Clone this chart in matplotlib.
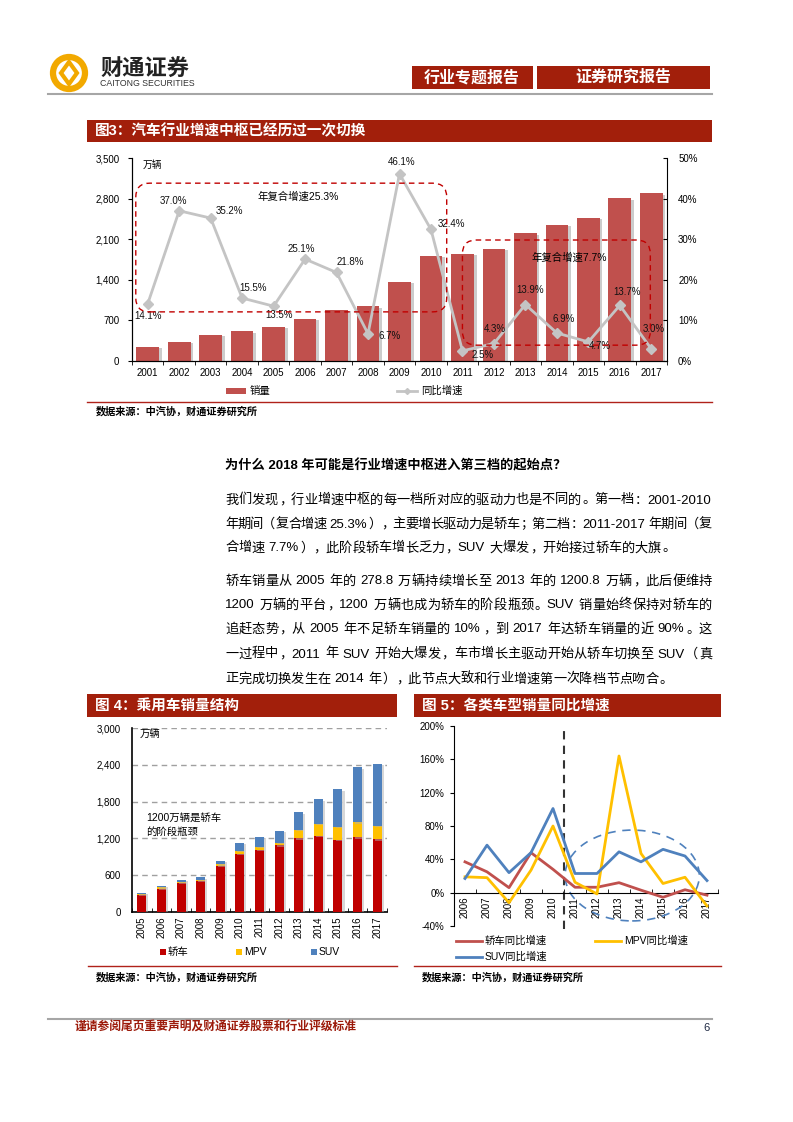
import matplotlib
matplotlib.use('Agg')
import matplotlib.pyplot as plt
import numpy as np
from matplotlib.patches import Rectangle, FancyBboxPatch, Ellipse, Polygon, Circle
from matplotlib.lines import Line2D
from matplotlib.transforms import IdentityTransform
from matplotlib.font_manager import FontProperties
import matplotlib.patheffects as pe

W, H = 793, 1122
FAM = ['Liberation Sans', 'Noto Sans CJK SC']
plt.rcParams['font.family'] = FAM

# ---------------- data ----------------
years3 = ['2001', '2002', '2003', '2004', '2005', '2006', '2007', '2008', '2009',
          '2010', '2011', '2012', '2013', '2014', '2015', '2016', '2017']
sales3 = [250, 330, 450, 510, 590, 725, 885, 940, 1370, 1810, 1850, 1935, 2200,
          2350, 2465, 2805, 2890]
growth3 = [14.1, 37.0, 35.2, 15.5, 13.5, 25.1, 21.8, 6.7, 46.1, 32.4, 2.5, 4.3,
           13.9, 6.9, 4.7, 13.7, 3.0]

years4 = ['2005', '2006', '2007', '2008', '2009', '2010', '2011', '2012', '2013',
          '2014', '2015', '2016', '2017']
sedan4 = [279, 383, 473, 504, 757, 951, 1011, 1086, 1201, 1240, 1173, 1220, 1188]
mpv4 = [16, 19, 20, 20, 21, 49, 54, 40, 135, 195, 216, 245, 215]
suv4 = [19, 25, 36, 44, 60, 130, 162, 195, 292, 405, 611, 892, 1017]

years5 = ['2006', '2007', '2008', '2009', '2010', '2011', '2012', '2013', '2014',
          '2015', '2016', '2017']
sedan_g5 = [37, 25, 6, 48, 28, 6.5, 6.5, 12, 3, -5.5, 3.5, -3]
mpv_g5 = [19, 18, -12, 27, 80, 12.5, -1.5, 164, 47, 11, 18.5, -16]
suv_g5 = [17, 57, 24, 48, 101, 23, 23, 49, 37, 52, 44, 14.5]

# label offsets (pixels) for growth labels in figure 3 (style only)
lab_off3 = [(0, -12), (-6, 10), (19, 7), (11, 10), (5, -9), (-4, 10), (14, 10),
            (22, -2), (2, 12), (20, 5), (20, -4), (1, 15), (5, 15), (7, 14),
            (12, -4), (7, 13), (2, 20)]

BANNER = '#A21F0B'
DARKRED = '#B0221A'

fig = plt.figure(figsize=(W / 100, H / 100), dpi=100)
fig.patch.set_facecolor('white')


def fx(x):
    return x / W


def fy(y):
    return 1 - y / H


def hline(x0, x1, y, color, lw=1.0):
    fig.add_artist(Line2D([fx(x0), fx(x1)], [fy(y), fy(y)], transform=fig.transFigure,
                          color=color, lw=lw))


def box(x0, y0, x1, y1, color):
    fig.add_artist(Rectangle((fx(x0), fy(y1)), (x1 - x0) / W, (y1 - y0) / H,
                             transform=fig.transFigure, fc=color, ec='none'))


def txt(x, y, s, **kw):
    return fig.text(fx(x), fy(y), s, **kw)


# ---------------- header ----------------
lc = (69, 73)
gold = '#F2A900'
fig.add_artist(Circle((lc[0], H - lc[1]), 16, transform=IdentityTransform(),
                      fill=False, ec=gold, lw=4.5))
fig.add_artist(Polygon([(lc[0], H - lc[1] + 11), (lc[0] + 8, H - lc[1]),
                        (lc[0], H - lc[1] - 11), (lc[0] - 8, H - lc[1])],
                       closed=True, transform=IdentityTransform(), fill=False,
                       ec=gold, lw=3))
txt(100, 70, '财通证券', fontsize=16, fontweight='bold', va='center', ha='left', color='#222222')
txt(100, 84, 'CAITONG SECURITIES', fontsize=6.3, va='center', ha='left', color='#333333')
box(412, 66, 533, 89, BANNER)
box(537, 66, 710, 89, BANNER)
txt(472, 77.5, '行业专题报告', fontsize=11.5, fontweight='bold', color='white', ha='center', va='center')
txt(623, 77.5, '证券研究报告', fontsize=11.5, fontweight='bold', color='white', ha='center', va='center')
hline(48, 712, 94, '#A6A6A6', 1.5)

# ---------------- figure 3 ----------------
box(87, 120, 712, 142, BANNER)
txt(95, 131, '图3：汽车行业增速中枢已经历过一次切换', fontsize=10.5, fontweight='bold',
    color='white', va='center', ha='left')

ax3 = fig.add_axes([fx(132), fy(361), 535 / W, 203 / H])
x3 = np.arange(len(years3))
bars = ax3.bar(x3, sales3, width=0.72, color='#C0504D', zorder=2)
for b in bars:
    b.set_path_effects([pe.SimplePatchShadow(offset=(2, -1), shadow_rgbFace='#9a9a9a', alpha=0.5),
                        pe.Normal()])
ax3.set_xlim(-0.5, len(years3) - 0.5)
ax3.set_ylim(0, 3500)
yt = np.arange(0, 3501, 700)
ax3.set_yticks(yt)
ax3.set_yticklabels([f'{v:,}' for v in yt], fontsize=7)
ax3.set_xticks(x3)
ax3.set_xticklabels(years3, fontsize=7)
ax3.set_xticks(np.arange(-0.5, len(years3), 1), minor=True)
ax3.tick_params(axis='x', which='major', length=0, pad=5)
ax3.tick_params(axis='x', which='minor', length=3, direction='out')
ax3.tick_params(axis='y', length=3, direction='out', pad=6)
ax3.spines['top'].set_visible(False)
ax3.spines['right'].set_visible(False)

ax3r = ax3.twinx()
g3 = np.array(growth3) / 100
ax3r.plot(x3, g3, color='#C4C4C4', lw=2, marker='D', ms=5, zorder=3)
ax3r.set_ylim(0, 0.5)
yt3r = np.arange(0, 0.51, 0.1)
ax3r.set_yticks(yt3r)
ax3r.set_yticklabels([f'{int(round(v * 100))}%' for v in yt3r], fontsize=7)
ax3r.tick_params(axis='y', length=3, direction='in', pad=8)
ax3r.spines['top'].set_visible(False)
for i, (v, off) in enumerate(zip(growth3, lab_off3)):
    ax3r.annotate(f'{v:.1f}%', (x3[i], v / 100), xytext=off, textcoords='offset pixels',
                  ha='center', va='center', fontsize=7, color='#111111')

ax3.text(0.02, 0.965, '万辆', transform=ax3.transAxes, fontsize=7, va='center', ha='left')
ax3r.text(4.78, 0.404, '年复合增速25.3%', fontsize=7.5, ha='center', va='center')
ax3r.text(13.4, 0.254, '年复合增速7.7%', fontsize=7.5, ha='center', va='center')

for (xa, ya, xb, yb) in [(-0.38, 0.121, 9.5, 0.438), (10.0, 0.039, 15.97, 0.298)]:
    p0 = ax3r.transData.transform((xa, ya))
    p1 = ax3r.transData.transform((xb, yb))
    fig.add_artist(FancyBboxPatch((p0[0], p0[1]), p1[0] - p0[0], p1[1] - p0[1],
                                  boxstyle='round,pad=0,rounding_size=14',
                                  transform=IdentityTransform(), fill=False,
                                  ec='#C00000', lw=1, ls=(0, (4, 3))))

box(226, 388, 246, 394, '#C0504D')
txt(250, 391, '销量', fontsize=7.5, va='center', ha='left')
fig.add_artist(Line2D([fx(397), fx(417)], [fy(391), fy(391)], transform=fig.transFigure,
                      color='#C4C4C4', lw=2))
fig.add_artist(Line2D([fx(407)], [fy(391)], transform=fig.transFigure, color='#C4C4C4',
                      marker='D', ms=3, lw=0))
txt(421, 391, '同比增速', fontsize=7.5, va='center', ha='left')
hline(87, 712, 402, DARKRED, 1)
txt(96, 411, '数据来源：中汽协，财通证券研究所', fontsize=7.3, fontweight='bold', va='center', ha='left')

# ---------------- body text ----------------
renderer = fig.canvas.get_renderer()
BODY_FS = 9.5


def draw_line(y, line, x0, x1, fs=BODY_FS, justify=True):
    prop = FontProperties(family=FAM, size=fs)
    em = fs * 100 / 72
    tokens = []
    i = 0
    while i < len(line):
        c = line[i]
        if c == ' ':
            tokens.append((' ', em * 0.27, 'space'))
            i += 1
        elif ord(c) < 128:
            j = i
            while j < len(line) and ord(line[j]) < 128 and line[j] != ' ':
                j += 1
            s = line[i:j]
            w, h, d = renderer.get_text_width_height_descent(s, prop, ismath=False)
            tokens.append((s, w + 1, 'ascii'))
            i = j
        else:
            tokens.append((c, em, 'cjk'))
            i += 1
    total = sum(t[1] for t in tokens)
    gap = (x1 - x0 - total) / (len(tokens) - 1) if (justify and len(tokens) > 1) else 0
    x = x0
    yb = y + 4.5
    for s, w, k in tokens:
        if k == 'ascii':
            txt(x, yb, s, ha='left', va='baseline', fontproperties=prop)
        elif k == 'cjk':
            if s in '（《“':
                txt(x + em * 0.95, yb, s, ha='right', va='baseline', fontproperties=prop)
            elif s in '，。；：）、！？”》':
                txt(x + em * 0.08, yb, s, ha='left', va='baseline', fontproperties=prop)
            else:
                txt(x + em / 2, yb, s, ha='center', va='baseline', fontproperties=prop)
        x += w + gap


txt(225, 466, '为什么 2018 年可能是行业增速中枢进入第三档的起始点？', fontsize=9.5,
    fontweight='bold', va='center', ha='left')
para = [
    (499, '我们发现，行业增速中枢的每一档所对应的驱动力也是不同的。第一档：2001-2010', True),
    (523, '年期间（复合增速 25.3%），主要增长驱动力是轿车；第二档：2011-2017 年期间（复', True),
    (547, '合增速 7.7%），此阶段轿车增长乏力，SUV 大爆发，开始接过轿车的大旗。', False),
    (580, '轿车销量从 2005 年的 278.8 万辆持续增长至 2013 年的 1200.8 万辆，此后便维持', True),
    (604, '1200 万辆的平台，1200 万辆也成为轿车的阶段瓶颈。SUV 销量始终保持对轿车的', True),
    (628, '追赶态势，从 2005 年不足轿车销量的 10%，到 2017 年达轿车销量的近 90%。这', True),
    (653, '一过程中，2011 年 SUV 开始大爆发，车市增长主驱动开始从轿车切换至 SUV（真', True),
    (678, '正完成切换发生在 2014 年），此节点大致和行业增速第一次降档节点吻合。', False),
]
for y, s, j in para:
    draw_line(y, s, 225, 712, justify=j)

# ---------------- figure 4 ----------------
box(87, 694, 397, 717, BANNER)
txt(95, 705.5, '图 4：乘用车销量结构', fontsize=10.5, fontweight='bold', color='white',
    va='center', ha='left')
ax4 = fig.add_axes([fx(132), fy(912), 255 / W, 184 / H])
x4 = np.arange(len(years4))
s4 = np.array(sedan4)
m4 = np.array(mpv4)
u4 = np.array(suv4)
shadow = [pe.SimplePatchShadow(offset=(1.5, -1), shadow_rgbFace='#b0b0b0', alpha=0.5), pe.Normal()]
for bb in ax4.bar(x4, s4, 0.46, color='#C00000', zorder=3):
    bb.set_path_effects(shadow)
for bb in ax4.bar(x4, m4, 0.46, bottom=s4, color='#FFC000', zorder=3):
    bb.set_path_effects(shadow)
for bb in ax4.bar(x4, u4, 0.46, bottom=s4 + m4, color='#4F81BD', zorder=3):
    bb.set_path_effects(shadow)
ax4.set_xlim(-0.5, len(years4) - 0.5)
ax4.set_ylim(0, 3000)
yt4 = np.arange(0, 3001, 600)
ax4.set_yticks(yt4)
ax4.set_yticklabels([f'{v:,}' for v in yt4], fontsize=7)
ax4.yaxis.grid(True, color='#A0A0A0', ls=(0, (4, 3)), lw=1)
ax4.set_axisbelow(True)
ax4.set_xticks(x4)
ax4.set_xticklabels(years4, fontsize=7, rotation=90)
ax4.set_xticks(np.arange(-0.5, len(years4), 1), minor=True)
ax4.tick_params(axis='x', which='major', length=0, pad=3)
ax4.tick_params(axis='x', which='minor', length=3, direction='in')
ax4.tick_params(axis='y', length=0, pad=8)
for sp in ['top', 'right']:
    ax4.spines[sp].set_visible(False)
ax4.spines['left'].set_linewidth(1.2)
ax4.spines['bottom'].set_linewidth(1.2)
txt(140, 734, '万辆', fontsize=7.5, va='center', ha='left')
txt(146, 818, '1200万辆是轿车', fontsize=7.5, va='center', ha='left')
txt(146, 832, '的阶段瓶颈', fontsize=7.5, va='center', ha='left')
for xx, col, lab in [(160, '#C00000', '轿车'), (236, '#FFC000', 'MPV'), (311, '#4F81BD', 'SUV')]:
    box(xx, 949, xx + 6, 955, col)
    txt(xx + 8, 952, lab, fontsize=7.5, va='center', ha='left')
hline(88, 397, 966, DARKRED, 1)
txt(96, 977, '数据来源：中汽协，财通证券研究所', fontsize=7.3, fontweight='bold', va='center', ha='left')

# ---------------- figure 5 ----------------
box(414, 694, 721, 717, BANNER)
txt(422, 705.5, '图 5：各类车型销量同比增速', fontsize=10.5, fontweight='bold', color='white',
    va='center', ha='left')
ax5 = fig.add_axes([fx(454), fy(926), 264 / W, 200 / H])
x5 = np.arange(len(years5))
ax5.plot(x5, np.array(sedan_g5) / 100, color='#C0504D', lw=2, zorder=3)
ax5.plot(x5, np.array(mpv_g5) / 100, color='#FFC000', lw=2, zorder=3)
ax5.plot(x5, np.array(suv_g5) / 100, color='#4F81BD', lw=2, zorder=4)
ax5.set_xlim(-0.5, len(years5) - 0.5)
ax5.set_ylim(-0.4, 2.0)
yt5 = np.arange(-0.4, 2.01, 0.4)
ax5.set_yticks(yt5)
ax5.set_yticklabels([f'{int(round(v * 100))}%' for v in yt5], fontsize=7)
ax5.spines['bottom'].set_position(('data', 0))
for sp in ['top', 'right']:
    ax5.spines[sp].set_visible(False)
ax5.set_xticks(x5)
ax5.set_xticklabels(years5, fontsize=7, rotation=90)
ax5.set_xticks(np.arange(-0.5, len(years5), 1), minor=True)
ax5.tick_params(axis='x', which='major', length=0, pad=3)
ax5.tick_params(axis='x', which='minor', length=3, direction='in')
ax5.tick_params(axis='y', length=3, direction='out', pad=4)
ax5.plot([4.5, 4.5], [-0.44, 2.0], color='#333333', ls=(0, (4, 3)), lw=1.5, clip_on=False, zorder=2)
ax5.add_patch(Ellipse((7.6, 0.206), 6.1, 1.09, fill=False, ec='#4F81BD', ls=(0, (5, 4)),
                      lw=1.2, zorder=2))
for x0, y0, col, lab in [(456, 941, '#C0504D', '轿车同比增速'), (595, 941, '#FFC000', 'MPV同比增速'),
                         (456, 957, '#4F81BD', 'SUV同比增速')]:
    fig.add_artist(Line2D([fx(x0), fx(x0 + 26)], [fy(y0), fy(y0)], transform=fig.transFigure,
                          color=col, lw=2))
    txt(x0 + 29, y0, lab, fontsize=7.5, va='center', ha='left')
hline(414, 721, 966, DARKRED, 1)
txt(422, 977, '数据来源：中汽协，财通证券研究所', fontsize=7.3, fontweight='bold', va='center', ha='left')

# ---------------- footer ----------------
hline(48, 712, 1019, '#A6A6A6', 1.5)
txt(75, 1028, '谨请参阅尾页重要声明及财通证券股票和行业评级标准', fontsize=8.5, fontweight='bold',
    color='#9C1A0A', va='center', ha='left')
txt(706, 1028, '6', fontsize=8, va='center', ha='center', color='#1F2A44')

fig.savefig('out.png', dpi=100)
